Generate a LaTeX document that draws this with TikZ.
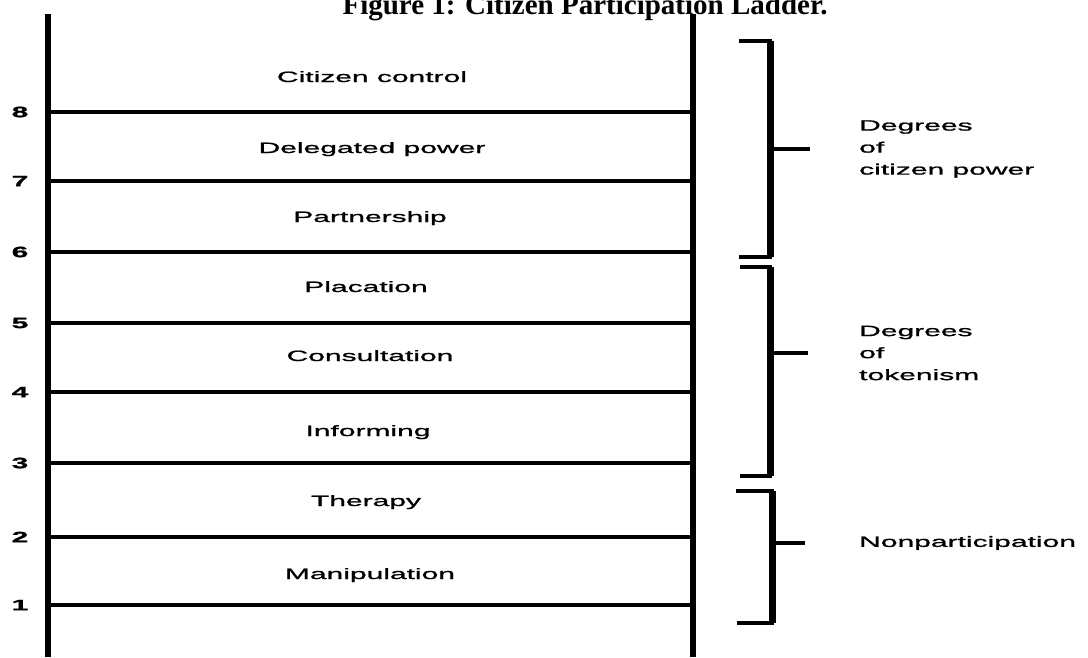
\documentclass[tikz,border=0pt]{standalone}
\usepackage{fontspec}
\setmainfont{Liberation Serif}
\newfontfamily\ladderfont[FakeStretch=2.0,FakeBold=1.2]{Liberation Sans}
\usetikzlibrary{positioning}
\tikzstyle{rail} = [line width=5.5pt]
\tikzstyle{rung} = [line width=3.5pt]

\begin{document}
\begin{tikzpicture}[x=1pt,y=-1pt]
   \tikzset{num/.style={font=\ladderfont\bfseries\fontsize{15}{15}\selectfont, inner sep=0pt},
   rungtext/.style={font=\ladderfont\fontsize{15}{15}\selectfont, inner sep=0pt, text height=11pt, text depth=3pt},
   group/.style={font=\ladderfont\fontsize{15}{22}\selectfont, align=left, anchor=west, inner sep=0pt},
   hook/.style={line width=4pt},
   bar/.style={line width=7pt},
   tick/.style={line width=3.5pt},
   }
 \useasboundingbox (0,0) rectangle (1088,657);

 % title, cut at the top of the page
 \node [font=\bfseries\fontsize{29}{29}\selectfont, anchor=base] (title) at (585,14) {Figure 1: Citizen Participation Ladder.};

 % the two rails
 \coordinate (ltop) at (48,14);
 \coordinate (lbot) at (48,657);
 \coordinate (rtop) at (693,14);
 \coordinate (rbot) at (693,657);
 \draw [rail] (ltop) -- (lbot);
 \draw [rail] (rtop) -- (rbot);

 % rung numbers
 \node [num] (n8) at (20,112) {8};
 \node [num] (n7) at (20,181) {7};
 \node [num] (n6) at (20,252) {6};
 \node [num] (n5) at (20,323) {5};
 \node [num] (n4) at (20,392) {4};
 \node [num] (n3) at (20,463) {3};
 \node [num] (n2) at (20,537) {2};
 \node [num] (n1) at (20,605) {1};

 \draw [rung] (n8 -| ltop) -- (n8 -| rtop);
 \draw [rung] (n7 -| ltop) -- (n7 -| rtop);
 \draw [rung] (n6 -| ltop) -- (n6 -| rtop);
 \draw [rung] (n5 -| ltop) -- (n5 -| rtop);
 \draw [rung] (n4 -| ltop) -- (n4 -| rtop);
 \draw [rung] (n3 -| ltop) -- (n3 -| rtop);
 \draw [rung] (n2 -| ltop) -- (n2 -| rtop);
 \draw [rung] (n1 -| ltop) -- (n1 -| rtop);

 % rung labels
 \node [rungtext] (control) at (372,78) {Citizen control};
 \node [rungtext] (delegated) at (372,149) {Delegated power};
 \node [rungtext] (partner) at (370,218) {Partnership};
 \node [rungtext] (placation) at (366,288) {Placation};
 \node [rungtext] (consult) at (370,357) {Consultation};
 \node [rungtext] (inform) at (368,432) {Informing};
 \node [rungtext] (therapy) at (366,502) {Therapy};
 \node [rungtext] (manip) at (370,575) {Manipulation};

 % groups
 \node [group] (power) at (859,149) {Degrees\\of\\citizen power};
 \node [group] (token) at (859,353) {Degrees\\of\\tokenism};
 \node [group] (nonpart) at (859,543) {Nonparticipation};

 % brackets
 \coordinate (b1) at (770,149);
 \coordinate (b1top) at (739,41);
 \coordinate (b1bot) at (739,257);
 \draw [hook] (b1top) -| (b1) |- (b1bot);
 \draw [bar] (b1top -| b1) -- (b1bot -| b1);
 \draw [tick, shorten >=49pt] (b1) -- (b1 -| power.west);

 \coordinate (b2) at (770,353);
 \coordinate (b2top) at (740,267);
 \coordinate (b2bot) at (740,476);
 \draw [hook] (b2top) -| (b2) |- (b2bot);
 \draw [bar] (b2top -| b2) -- (b2bot -| b2);
 \draw [tick, shorten >=51pt] (b2) -- (b2 -| token.west);

 \coordinate (b3) at (772,543);
 \coordinate (b3top) at (736,491);
 \coordinate (b3bot) at (737,623);
 \draw [hook] (b3top) -| (b3) |- (b3bot);
 \draw [bar] (b3top -| b3) -- (b3bot -| b3);
 \draw [tick, shorten >=54pt] (b3) -- (b3 -| nonpart.west);
\end{tikzpicture}
\end{document}
